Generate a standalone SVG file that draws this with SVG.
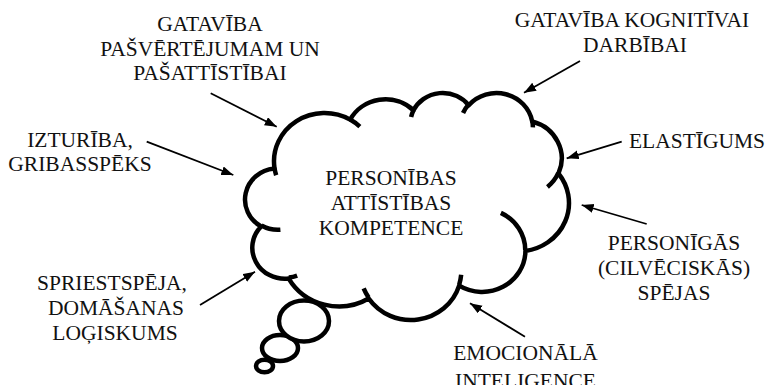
<svg xmlns="http://www.w3.org/2000/svg" width="768" height="385" viewBox="0 0 768 385">
  <style>
    text { font-family: 'Liberation Serif', 'Times New Roman', serif; font-size: 21.5px; fill: #111; text-anchor: middle; }
    .cloud { fill: #fff; stroke: #000; stroke-width: 4.5; stroke-linejoin: round; }
    .tick { fill: none; stroke: #000; stroke-width: 4.5; }
    .bubble { fill: #fff; stroke: #000; stroke-width: 4.5; }
    .conn { stroke: #000; stroke-width: 1.8; fill: none; marker-end: url(#head); }
  </style>
  <defs>
    <marker id="head" markerUnits="userSpaceOnUse" markerWidth="13" markerHeight="10" refX="12" refY="4.5" orient="auto">
      <path d="M0,0 L12,4.5 L0,9 Z" fill="#000"/>
    </marker>
  </defs>
  <rect width="768" height="385" fill="#fff"/>

  <!-- thought bubbles trailing from the cloud -->
  <g id="bubbles">
    <ellipse class="bubble" cx="264.5" cy="366" rx="8.5" ry="6.3" stroke-width="4"/>
    <ellipse class="bubble" cx="280" cy="348" rx="18" ry="13"/>
    <ellipse class="bubble" cx="304" cy="321" rx="25" ry="20.5"/>
  </g>

  <!-- central cloud: eleven elliptical lobes plus short inner creases -->
  <g id="cloud">
    <path class="cloud" d="M274.46,167.75
      A50.58,48.27 0 0 1 350.15,119.59
      A39.94,38.17 0 0 1 413.45,110.29
      A32.69,31.23 0 0 1 468.71,105.29
      A36.38,34.64 0 0 1 532.26,121.55
      A39.94,38.20 0 0 1 558.47,173.47
      A50.74,48.43 0 0 1 525.41,250.92
      A43.33,41.33 0 0 1 459.14,285.64
      A50.57,48.41 0 0 1 368.70,298.52
      A57.82,55.38 0 0 1 288.74,278.59
      A32.66,31.09 0 0 1 261.10,226.47
      A32.54,31.23 0 0 1 274.20,168.46 Z"/>
    <path class="tick" d="M280.40,229.77 A32.54,31.23 0 0 1 261.43,225.58
      M297.14,275.59 A32.66,31.09 0 0 1 288.84,277.59
      M368.67,297.60 A50.57,48.41 0 0 1 363.66,288.45
      M461.16,274.81 A50.57,48.41 0 0 1 459.16,284.83
      M500.88,212.84 A43.33,41.33 0 0 1 525.23,250.32
      M558.32,172.91 A39.94,38.20 0 0 1 547.47,186.97
      M532.30,120.76 A36.38,34.64 0 0 1 532.87,127.40
      M463.04,113.02 A36.38,34.64 0 0 1 468.60,104.55
      M411.09,117.05 A32.69,31.23 0 0 1 413.78,109.75
      M350.11,119.53 A50.58,48.27 0 0 1 359.85,126.61
      M276.16,175.20 A50.58,48.27 0 0 1 274.46,167.75"/>
    <text x="391" y="185">PERSONĪBAS</text>
    <text x="391" y="210">ATTĪSTĪBAS</text>
    <text x="391" y="235">KOMPETENCE</text>
  </g>

  <!-- surrounding competence labels -->
  <g id="self-assessment">
    <text x="210" y="31">GATAVĪBA</text>
    <text x="210" y="55.5">PAŠVĒRTĒJUMAM UN</text>
    <text x="210" y="80">PAŠATTĪSTĪBAI</text>
  </g>
  <g id="endurance">
    <text x="80" y="146.7">IZTURĪBA,</text>
    <text x="80" y="170.7">GRIBASSPĒKS</text>
  </g>
  <g id="cognitive">
    <text x="632" y="27">GATAVĪBA KOGNITĪVAI</text>
    <text x="635" y="51.5">DARBĪBAI</text>
  </g>
  <g id="flexibility">
    <text x="697" y="148.3">ELASTĪGUMS</text>
  </g>
  <g id="personal">
    <text x="674" y="250">PERSONĪGĀS</text>
    <text x="674" y="275">(CILVĒCISKĀS)</text>
    <text x="674" y="299.5">SPĒJAS</text>
  </g>
  <g id="emotional">
    <text x="525.5" y="360">EMOCIONĀLĀ</text>
    <text x="525.5" y="388">INTELIGENCE</text>
  </g>
  <g id="reasoning">
    <text x="112" y="290">SPRIESTSPĒJA,</text>
    <text x="116" y="315">DOMĀŠANAS</text>
    <text x="115" y="339.5">LOĢISKUMS</text>
  </g>

  <!-- arrows pointing into the cloud -->
  <g id="connectors">
    <line class="conn" x1="210.7" y1="93.3" x2="276.7" y2="126.7"/>
    <line class="conn" x1="146.7" y1="141.7" x2="233.3" y2="175"/>
    <line class="conn" x1="580" y1="61" x2="524" y2="92.7"/>
    <line class="conn" x1="621.7" y1="141.7" x2="566.7" y2="158.3"/>
    <line class="conn" x1="646.7" y1="224" x2="581.7" y2="205"/>
    <line class="conn" x1="525" y1="336.7" x2="470" y2="303.3"/>
    <line class="conn" x1="200" y1="305" x2="255" y2="271.7"/>
  </g>
</svg>
